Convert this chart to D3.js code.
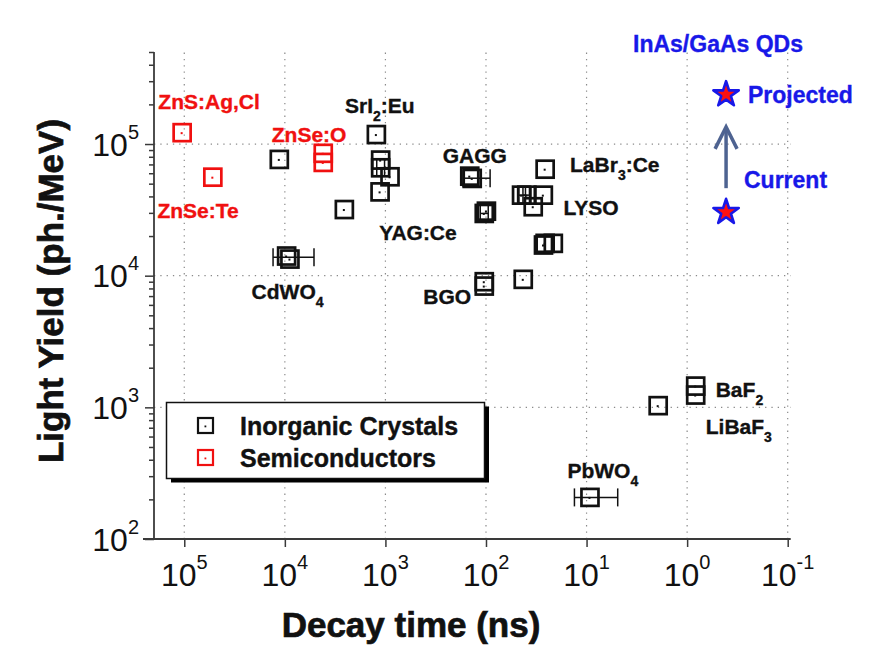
<!DOCTYPE html>
<html><head><meta charset="utf-8">
<script src="https://cdn.jsdelivr.net/npm/d3@7/dist/d3.min.js"></script>
<style>body{margin:0;background:#fff}svg{display:block}</style>
</head><body>
<svg id="chart" width="876" height="652"></svg>
<script>
// ---- data (decay time ns, light yield ph/MeV) ----
const semiT  = [1.05e5, 5.2e4, 4150, 4150];
const semiLY = [1.22e5, 5.6e4, 8.5e4, 7.25e4];

const crysT  = [11350, 9600, 8900, 2560, 1230, 1115, 1115, 900, 1130,
                137, 145, 104, 99, 104, 104, 42.6, 25.8,
                44.3, 39.2, 26.9, 33.9, 26.8, 25.8, 21.4,
                1.94, 0.822, 0.822, 9.25];
const crysLY = [7.64e4, 1.41e4, 1.337e4, 3.18e4, 1.18e5, 7.55e4, 6.6e4, 5.64e4, 4.33e4,
                5.48e4, 5.7e4, 2.97e4, 3.09e4, 9000, 8340, 9380, 6.44e4,
                4.09e4, 4.09e4, 4.09e4, 3.34e4, 1.71e4, 1.76e4, 1.76e4,
                1030, 1450, 1240, 207];

// horizontal error bars: centre LY, low / high decay time
const errLY = [1.38e4, 5.5e4, 6.6e4, 2.97e4, 4.09e4, 4.09e4, 207];
const errLo = [5130, 91, 1020, 95, 40.5, 35.8, 4.9];
const errHi = [13100, 169, 1220, 114, 48.5, 42.9, 13.2];

// InAs/GaAs quantum dots (current, projected)
const qdT  = [0.41, 0.41];
const qdLY = [3.09e4, 2.42e5];
const arrowLY = [4.62e4, 1.35e5];

const xTicks = [1e5, 1e4, 1e3, 1e2, 1e1, 1e0, 1e-1];
const xTickExp = ["5", "4", "3", "2", "1", "0", "-1"];
const yTicks = [1e2, 1e3, 1e4, 1e5];
const yTickExp = ["2", "3", "4", "5"];

// annotation labels: [text, subscript, tail, t, LY, colour]
const labels = [
  ["ZnS:Ag,Cl", "", "", 1.81e5, 1.86e5, "red"],
  ["ZnSe:Te", "", "", 1.85e5, 2.72e4, "red"],
  ["ZnSe:O", "", "", 1.35e4, 1.04e5, "red"],
  ["SrI", "2", ":Eu", 2520, 1.72e5, "black"],
  ["YAG:Ce", "", "", 1150, 1.86e4, "black"],
  ["CdWO", "4", "", 2.14e4, 6700, "black"],
  ["GAGG", "", "", 269, 7.16e4, "black"],
  ["LaBr", "3", ":Ce", 14.6, 6.12e4, "black"],
  ["LYSO", "", "", 17.0, 2.88e4, "black"],
  ["BGO", "", "", 420, 6140, "black"],
  ["BaF", "2", "", 0.52, 1190, "black"],
  ["LiBaF", "3", "", 0.653, 632, "black"],
  ["PbWO", "4", "", 15.5, 293, "black"]
];
const qdTexts = [["Projected", 0.248, 2.05e5], ["Current", 0.272, 4.63e4]];
const qdTitle = ["InAs/GaAs QDs", 0.493, 5.04e5];
const legendItems = ["Inorganic Crystals", "Semiconductors"];

// ---- drawing ----
const FONT = "'Liberation Sans', Arial, Helvetica, sans-serif";
const RED = "#f01010", BLUE = "#1818e8";
const svg = d3.select("#chart");
const x = d3.scaleLog().domain([2e5, 0.1]).range([154, 787.7]);
const y = d3.scaleLog().domain([100, 5e5]).range([539, 52]);

// grid
const grid = svg.append("g").attr("stroke", "#8a8a8a").attr("stroke-width", 1.2)
  .attr("stroke-dasharray", "1.3,5");
xTicks.forEach(t => grid.append("line").attr("x1", x(t)).attr("x2", x(t))
  .attr("y1", y.range()[0]).attr("y2", y.range()[1]));
yTicks.slice(1).forEach(v => grid.append("line").attr("y1", y(v)).attr("y2", y(v))
  .attr("x1", x.range()[0]).attr("x2", x.range()[1] + 3));

// axes
const axisCol = "#3a3a3a";
const yAxis = d3.axisLeft(y).tickValues(
  d3.range(2, 6).flatMap(e => d3.range(1, 10).map(m => m * Math.pow(10, e))).filter(v => v <= 5e5)
).tickSize(5).tickFormat("");
const yg = svg.append("g").attr("transform", `translate(${x.range()[0]},0)`).call(yAxis);
yg.select(".domain").remove();
yg.selectAll(".tick line").attr("stroke", axisCol).attr("stroke-width", 1.5)
  .attr("x2", d => Math.abs(Math.log10(d) - Math.round(Math.log10(d))) < 1e-6 ? -9 : -5);
svg.append("line").attr("x1", x.range()[0]).attr("x2", x.range()[0])
  .attr("y1", y.range()[0]).attr("y2", y.range()[1]).attr("stroke", axisCol).attr("stroke-width", 1.8);

const xAxis = d3.axisBottom(x).tickValues(xTicks).tickSize(8).tickFormat("");
const xg = svg.append("g").attr("transform", `translate(0,${y.range()[0]})`).call(xAxis);
xg.select(".domain").remove();
xg.selectAll(".tick line").attr("stroke", axisCol).attr("stroke-width", 1.5);
svg.append("line").attr("x1", x.range()[0] - 11).attr("x2", x.range()[1] + 3)
  .attr("y1", y.range()[0]).attr("y2", y.range()[0]).attr("stroke", axisCol).attr("stroke-width", 1.8);

// tick labels
xTicks.forEach((t, i) => {
  const tx = svg.append("text").attr("x", x(t)).attr("y", 586).attr("text-anchor", "middle")
    .attr("font-family", FONT).attr("font-size", 32).attr("fill", "#111");
  tx.append("tspan").text("10");
  tx.append("tspan").attr("font-size", 20).attr("dy", -17).text(xTickExp[i]);
});
yTicks.forEach((v, i) => {
  const tx = svg.append("text").attr("x", 139).attr("y", y(v) + 11.5).attr("text-anchor", "end")
    .attr("font-family", FONT).attr("font-size", 32).attr("fill", "#111");
  tx.append("tspan").text("10");
  tx.append("tspan").attr("font-size", 20).attr("dy", -17).text(yTickExp[i]);
});

// axis titles
svg.append("text").attr("x", 411).attr("y", 637).attr("text-anchor", "middle")
  .attr("font-family", FONT).attr("font-weight", "bold").attr("font-size", 35).attr("fill", "#111")
  .attr("stroke", "#111").attr("stroke-width", 0.7)
  .text("Decay time (ns)");
svg.append("text").attr("transform", "translate(63,291) rotate(-90)").attr("text-anchor", "middle")
  .attr("font-family", FONT).attr("font-weight", "bold").attr("font-size", 35).attr("fill", "#111")
  .attr("stroke", "#111").attr("stroke-width", 0.7)
  .text("Light Yield (ph./MeV)");

// error bars
const eg = svg.append("g").attr("stroke", "#111").attr("stroke-width", 1.5);
errLY.forEach((v, i) => {
  const yy = y(v), x1 = x(errLo[i]), x2 = x(errHi[i]);
  eg.append("line").attr("x1", x1).attr("x2", x2).attr("y1", yy).attr("y2", yy);
  [x1, x2].forEach(xx => eg.append("line").attr("x1", xx).attr("x2", xx)
    .attr("y1", yy - 9).attr("y2", yy + 9));
});

// square markers
const S = 17;
function squares(T, L, col) {
  const g = svg.append("g");
  T.forEach((t, i) => {
    const cx = x(t), cy = y(L[i]);
    g.append("rect").attr("x", cx - S / 2).attr("y", cy - S / 2).attr("width", S).attr("height", S)
      .attr("fill", "none").attr("stroke", col).attr("stroke-width", 2.7);
    g.append("rect").attr("x", cx - 1.5).attr("y", cy - 0.5).attr("width", 2).attr("height", 2).attr("fill", col);
  });
}
squares(crysT, crysLY, "#111");
squares(semiT, semiLY, RED);

// labels
labels.forEach(l => {
  const c = l[5] === "red" ? RED : "#111";
  const tx = svg.append("text").attr("x", x(l[3])).attr("y", y(l[4]))
    .attr("font-family", FONT).attr("font-weight", "bold").attr("font-size", 21).attr("fill", c)
    .attr("stroke", c).attr("stroke-width", 0.35);
  tx.append("tspan").text(l[0]);
  if (l[1]) tx.append("tspan").attr("font-size", 14).attr("dy", 8).text(l[1]);
  if (l[2]) tx.append("tspan").attr("dy", -8).text(l[2]);
});

// QD arrow
const ax = x(qdT[0]), ay1 = y(arrowLY[0]), ay2 = y(arrowLY[1]);
const arrowCol = "#4e6391";
svg.append("line").attr("x1", ax).attr("x2", ax).attr("y1", ay1).attr("y2", ay2 + 1)
  .attr("stroke", arrowCol).attr("stroke-width", 3.5);
svg.append("path").attr("d", `M${ax - 11},${ay2 + 22} L${ax},${ay2} L${ax + 11},${ay2 + 22}`)
  .attr("fill", "none").attr("stroke", arrowCol).attr("stroke-width", 3.5).attr("stroke-linejoin", "miter");

// stars
const star = d3.symbol().type(d3.symbolStar).size(200);
qdT.forEach((t, i) => {
  svg.append("path").attr("d", star()).attr("transform", `translate(${x(t)},${y(qdLY[i]) + 1})`)
    .attr("fill", "#ff1010").attr("stroke", BLUE).attr("stroke-width", 2.6).attr("stroke-linejoin", "round");
});
svg.append("text").attr("x", x(qdTitle[1])).attr("y", y(qdTitle[2])).attr("text-anchor", "middle")
  .attr("font-family", FONT).attr("font-weight", "bold").attr("font-size", 23).attr("fill", BLUE)
  .attr("stroke", BLUE).attr("stroke-width", 0.35).text(qdTitle[0]);
qdTexts.forEach(q => svg.append("text").attr("x", x(q[1])).attr("y", y(q[2]))
  .attr("font-family", FONT).attr("font-weight", "bold").attr("font-size", 23).attr("fill", BLUE)
  .attr("stroke", BLUE).attr("stroke-width", 0.35).text(q[0]));

// legend
const lg = svg.append("g");
lg.append("rect").attr("x", 171).attr("y", 406.5).attr("width", 318).attr("height", 76).attr("fill", "#000");
lg.append("rect").attr("x", 166.5).attr("y", 402.5).attr("width", 318).attr("height", 76)
  .attr("fill", "#fff").attr("stroke", "#111").attr("stroke-width", 1.5);
legendItems.forEach((name, i) => {
  const cy = 425.5 + i * 32, col = i === 0 ? "#111" : RED;
  lg.append("rect").attr("x", 205.5 - 7.5).attr("y", cy - 7.5).attr("width", 15).attr("height", 15)
    .attr("fill", "none").attr("stroke", col).attr("stroke-width", 2.2);
  lg.append("rect").attr("x", 204.5).attr("y", cy).attr("width", 1.8).attr("height", 1.8).attr("fill", col);
  lg.append("text").attr("x", 240).attr("y", cy + 9).attr("font-family", FONT).attr("font-weight", "bold")
    .attr("font-size", 25).attr("fill", "#111").attr("stroke", "#111").attr("stroke-width", 0.4).text(name);
});
</script>
</body></html>
